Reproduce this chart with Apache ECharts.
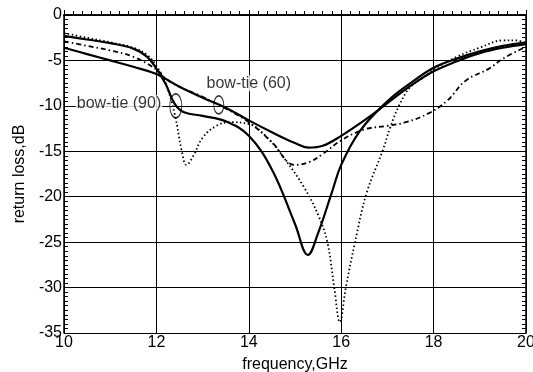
<!DOCTYPE html>
<html>
<head>
<meta charset="utf-8">
<script src="https://cdn.jsdelivr.net/npm/echarts@6/dist/echarts.min.js"></script>
<style>
html,body{margin:0;padding:0;background:#fff}
#chart{width:533px;height:372px}
</style>
</head>
<body>
<div id="chart"></div>
<script>
// bow-tie (60), solid, shallow minimum
var freqS1 = [10,10.5,11,11.5,12,12.5,13,13.5,14,14.5,15,15.3,15.6,16,16.5,17,17.5,18,18.5,19,19.5,20]
var lossS1 = [-3.6,-4.3,-5.0,-5.7,-6.5,-7.9,-9.1,-10.2,-11.6,-12.9,-14.1,-14.6,-14.4,-13.3,-11.6,-9.7,-7.8,-6.2,-5.1,-4.2,-3.6,-3.2]
// solid, deep dip
var freqS2 = [10,10.5,11,11.5,11.8,12,12.2,12.4,12.6,13,13.5,14,14.5,15,15.28,15.5,15.8,16,16.4,17,17.5,18,18.5,19,19.5,20]
var lossS2 = [-2.3,-2.7,-3.1,-3.7,-4.6,-5.9,-7.6,-9.8,-10.7,-11.1,-11.7,-13.3,-17,-23,-26.4,-24,-19.5,-16.5,-12.8,-9.5,-7.5,-5.8,-4.8,-4.0,-3.4,-3.0]
// dotted
var freqD = [10,10.5,11,11.5,11.8,12,12.2,12.4,12.55,12.65,12.8,13,13.3,13.6,14,14.4,14.8,15.2,15.5,15.7,15.85,15.97,16.1,16.3,16.55,16.9,17.06,17.25,17.5,17.8,18,18.5,19,19.5,19.8,20]
var lossD = [-2.0,-2.5,-3.0,-3.6,-4.4,-5.6,-7.5,-11,-15,-16.5,-15.5,-13.5,-12.2,-11.8,-12,-13.5,-16,-19,-22,-25,-30,-33.8,-30,-25,-19.6,-14.9,-12.4,-10,-7.9,-6.8,-6.0,-4.6,-3.6,-2.8,-2.8,-3.2]
// dash-dot
var freqDD = [10,10.5,11,11.5,12,12.2,12.5,13,13.5,14,14.5,15,15.3,15.6,16,16.5,17,17.4,17.9,18.3,18.7,19.2,19.5,20]
var lossDD = [-2.9,-3.4,-3.9,-4.6,-6.0,-7.0,-7.9,-9.0,-10.3,-11.8,-14,-16.5,-16.2,-15.3,-13.8,-12.6,-12.2,-11.8,-10.8,-9.4,-7.2,-5.9,-4.8,-3.5]

// annotations
var ringX = [12.42, 13.35]
var ringY = [-10.0, -9.9]
var noteText = ['bow-tie (90)', 'bow-tie (60)']
var noteX = [11.19, 14.0]
var noteY = [-9.7, -7.5]

function zip(xs, ys){
	var out = []
	for (var i = 0; i < xs.length; i++) out.push([xs[i], ys[i]])
	return out
}

var font = 'Liberation Sans'
var chart = echarts.init(document.getElementById('chart'))

var option = {
	backgroundColor: '#fff',
	animation: false,
	grid: { left: 64, right: 7, top: 15, bottom: 39, outerBoundsMode: 'none', containLabel: false },
	xAxis: [
		{
			type: 'value', min: 10, max: 20, interval: 2,
			name: 'frequency,GHz', nameLocation: 'middle', nameGap: 24,
			nameTextStyle: { fontFamily: font, fontSize: 16, color: '#000' },
			axisLine: { lineStyle: { color: '#000', width: 1.5 } },
			axisTick: { inside: true, length: 5, lineStyle: { color: '#000' } },
			minorTick: { show: true, splitNumber: 10, length: 4, lineStyle: { color: '#000' } },
			axisLabel: { fontFamily: font, fontSize: 16, color: '#000', margin: 2 },
			splitLine: { show: true, lineStyle: { color: '#000', width: 1 } }
		},
		{
			type: 'value', min: 10, max: 20, position: 'top',
			axisLine: { lineStyle: { color: '#000', width: 1.5 } },
			axisTick: { show: false }, axisLabel: { show: false }, splitLine: { show: false }
		}
	],
	yAxis: [
		{
			type: 'value', min: -35, max: 0, interval: 5,
			name: 'return loss,dB', nameLocation: 'middle', nameGap: 35,
			nameTextStyle: { fontFamily: font, fontSize: 16, color: '#000' },
			axisLine: { show: true, lineStyle: { color: '#000', width: 1.5 } },
			axisTick: { inside: true, length: 5, lineStyle: { color: '#000' } },
			minorTick: { show: true, splitNumber: 10, length: 4, lineStyle: { color: '#000' } },
			axisLabel: { fontFamily: font, fontSize: 16, color: '#000', margin: 2 },
			splitLine: { show: true, lineStyle: { color: '#000', width: 1 } }
		},
		{
			type: 'value', min: -35, max: 0, interval: 5, position: 'right',
			axisLine: { show: true, lineStyle: { color: '#000', width: 1.5 } },
			axisTick: { inside: true, length: 5, lineStyle: { color: '#000' } },
			minorTick: { show: true, splitNumber: 10, length: 4, lineStyle: { color: '#000' } },
			axisLabel: { show: false }, splitLine: { show: false }
		}
	],
	series: [
		{
			type: 'line', smooth: 0.4, symbol: 'none', data: zip(freqS1, lossS1),
			lineStyle: { color: '#000', width: 2.2 }
		},
		{
			type: 'line', smooth: 0.4, symbol: 'none', data: zip(freqS2, lossS2),
			lineStyle: { color: '#000', width: 2.2 }
		},
		{
			type: 'line', smooth: 0.4, symbol: 'none', data: zip(freqD, lossD),
			lineStyle: { color: '#000', width: 1.8, type: [1.5, 2.5] }
		},
		{
			type: 'line', smooth: 0.4, symbol: 'none', data: zip(freqDD, lossDD),
			lineStyle: { color: '#000', width: 1.8, type: [5, 3, 1.5, 3] }
		},
		{
			type: 'scatter', symbol: 'circle',
			data: [
				{ value: [ringX[0], ringY[0]], symbolSize: [12, 24] },
				{ value: [ringX[1], ringY[1]], symbolSize: [10, 18] }
			],
			itemStyle: { color: 'rgba(0,0,0,0)', borderColor: '#000', borderWidth: 1.3 },
			z: 5
		},
		{
			type: 'scatter', symbolSize: 0,
			itemStyle: { color: '#000' },
			data: zip(noteX, noteY).map(function(p, i){ return { value: p, name: noteText[i] } }),
			label: {
				show: true, position: 'inside', formatter: '{b}',
				fontFamily: font, fontSize: 16, color: '#000',
				textBorderWidth: 0, textBorderColor: 'transparent',
				backgroundColor: '#fff', padding: [0, 1]
			},
			z: 6
		}
	]
}

chart.setOption(option)
</script>
</body>
</html>
